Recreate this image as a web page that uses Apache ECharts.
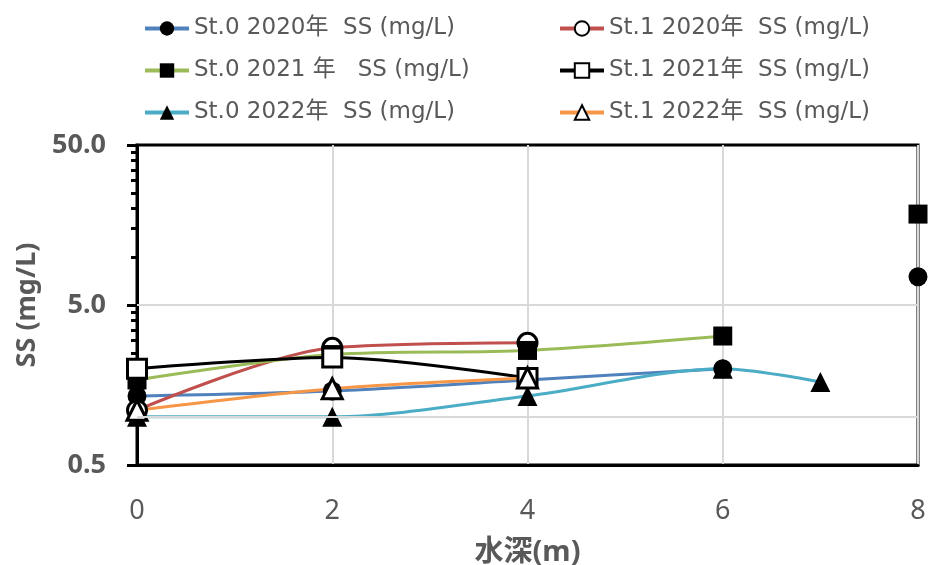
<!DOCTYPE html>
<html>
<head>
<meta charset="utf-8">
<script src="https://cdn.jsdelivr.net/npm/echarts@6/dist/echarts.min.js"></script>
<style>
  html, body { margin: 0; padding: 0; background: #fff; }
  #chartView { width: 931px; height: 565px; }
</style>
</head>
<body>
<div id="chartView"></div>
<script>
// 水深 (m)
var depths = [0, 2, 4, 6, 7, 8];
// SS (mg/L), null = 欠測
var st0_2020 = [1.35, 1.45, 1.7, 2.0, null, 7.5];
var st1_2020 = [1.1, 2.7, 2.9, null, null, null];
var st0_2021 = [1.7, 2.45, 2.6, 3.2, null, 18.5];
var st1_2021 = [2.0, 2.35, 1.75, null, null, null];
var st0_2022 = [1.0, 1.0, 1.35, 2.0, 1.65, null];
var st1_2022 = [1.1, 1.5, 1.75, null, null, null];

var yMajor = [0.5, 5, 50];
var yMinor = [1, 1.5, 2, 2.5, 3, 3.5, 4, 4.5, 10, 15, 20, 25, 30, 35, 40, 45];
var yGrid = [1, 5];

var textColor = '#595959';
var fontFamily = "'Noto Sans', 'Noto Sans CJK JP', sans-serif";

function pairs(vals) {
    return depths.map(function (d, i) { return [d, vals[i]]; });
}

function mkSeries(name, vals, color, symbol, open) {
    return {
        name: name,
        type: 'line',
        data: pairs(vals),
        smooth: 0.3,
        connectNulls: false,
        symbol: symbol,
        symbolSize: symbol === 'triangle' ? 20 : 19,
        lineStyle: { color: color, width: 3 },
        itemStyle: {
            color: open ? '#fff' : '#000',
            borderColor: '#000',
            borderWidth: open ? 3 : 0
        }
    };
}

var series = [
    mkSeries('St.0 2020年  SS (mg/L)', st0_2020, '#4F81BD', 'circle', false),
    mkSeries('St.1 2020年  SS (mg/L)', st1_2020, '#C0504D', 'circle', true),
    mkSeries('St.0 2021 年   SS (mg/L)', st0_2021, '#9BBB59', 'rect', false),
    mkSeries('St.1 2021年  SS (mg/L)', st1_2021, '#000000', 'rect', true),
    mkSeries('St.0 2022年  SS (mg/L)', st0_2022, '#4BACC6', 'triangle', false),
    mkSeries('St.1 2022年  SS (mg/L)', st1_2022, '#F79646', 'triangle', true)
];

// gridlines at 1 and 5
series[0].markLine = {
    silent: true,
    symbol: 'none',
    label: { show: false },
    lineStyle: { color: '#d9d9d9', width: 2, type: 'solid' },
    data: yGrid.map(function (v) { return { yAxis: v }; })
};

var legendText = { color: textColor, fontSize: 23, fontFamily: "'DejaVu Sans', 'Noto Sans CJK JP', sans-serif" };

var myChart = echarts.init(document.getElementById('chartView'));
var options = {
    animation: false,
    backgroundColor: '#fff',
    legend: [
        {
            orient: 'vertical',
            left: 138, top: 12,
            itemWidth: 44, itemHeight: 18, itemGap: 19,
            textStyle: legendText,
            lineStyle: { width: 4 },
            data: [series[0].name, series[2].name, series[4].name]
        },
        {
            orient: 'vertical',
            left: 553, top: 12,
            itemWidth: 44, itemHeight: 18, itemGap: 19,
            textStyle: legendText,
            lineStyle: { width: 4 },
            data: [series[1].name, series[3].name, series[5].name]
        }
    ],
    grid: {
        left: 137, right: 13, top: 145, bottom: 100,
        outerBoundsMode: 'none',
        show: true,
        borderColor: '#000',
        borderWidth: 3
    },
    xAxis: {
        type: 'value',
        min: 0, max: 8, interval: 2,
        name: '水深(m)',
        nameLocation: 'middle',
        nameGap: 73,
        nameTextStyle: { color: textColor, fontSize: 29, fontWeight: 'bold', fontFamily: fontFamily },
        axisLine: { lineStyle: { color: '#000', width: 3 } },
        axisTick: { show: false },
        axisLabel: { color: textColor, fontSize: 27, margin: 33, fontFamily: fontFamily },
        splitLine: { show: true, lineStyle: { color: '#d9d9d9', width: 2 } }
    },
    yAxis: [
        {
            type: 'log',
            logBase: 10,
            min: 0.5, max: 50,
            name: 'SS (mg/L)',
            nameLocation: 'middle',
            nameGap: 94,
            nameTextStyle: { color: textColor, fontSize: 27, fontWeight: 'bold', fontFamily: fontFamily },
            axisLine: { show: true, lineStyle: { color: '#000', width: 3 } },
            axisTick: { show: true, customValues: yMinor, length: 6, lineStyle: { color: '#000', width: 3 } },
            axisLabel: {
                customValues: yMajor,
                color: textColor, fontSize: 27, fontWeight: 'bold', fontFamily: fontFamily,
                margin: 31,
                formatter: function (v) { return Number(v).toFixed(1); }
            },
            splitLine: { show: false }
        },
        {
            type: 'log',
            logBase: 10,
            min: 0.5, max: 50,
            position: 'left',
            axisLine: { show: false },
            axisTick: { show: true, customValues: yMajor, length: 10, lineStyle: { color: '#000', width: 3 } },
            axisLabel: { show: false },
            splitLine: { show: false }
        }
    ],
    series: series
};
myChart.setOption(options);
</script>
</body>
</html>
